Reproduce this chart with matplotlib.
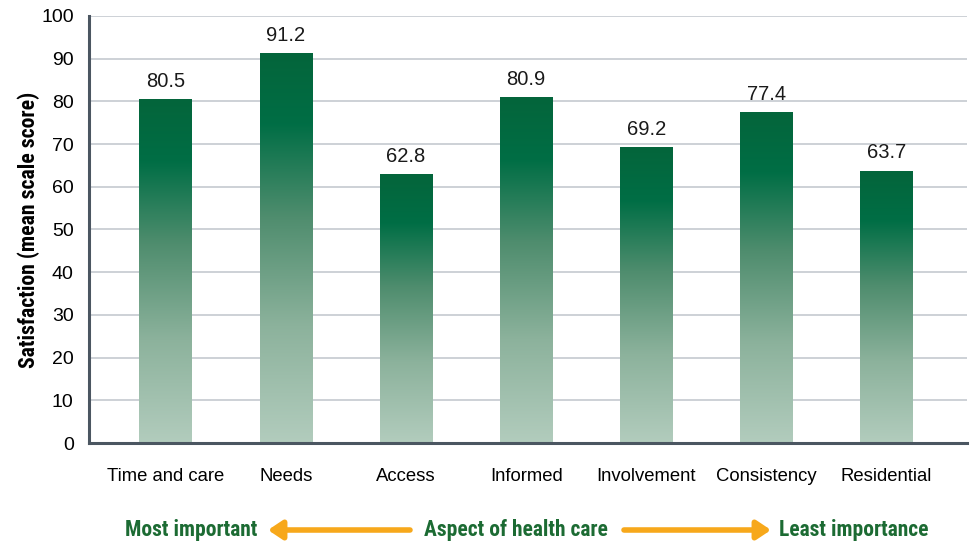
import matplotlib
matplotlib.use("Agg")
import matplotlib.pyplot as plt
import numpy as np
from matplotlib.colors import LinearSegmentedColormap
from matplotlib import font_manager

categories = ["Time and care", "Needs", "Access", "Informed", "Involvement", "Consistency", "Residential"]
scores = [80.5, 91.2, 62.8, 80.9, 69.2, 77.4, 63.7]
yticks = [0, 10, 20, 30, 40, 50, 60, 70, 80, 90, 100]

installed = {f.name for f in font_manager.fontManager.ttflist}
narrow = "Liberation Sans Narrow" if "Liberation Sans Narrow" in installed else "Roboto Condensed" if "Roboto Condensed" in installed else "Liberation Sans"
plt.rcParams["font.family"] = ["Liberation Sans", "DejaVu Sans"]

fig = plt.figure(figsize=(9.71, 5.41), dpi=100)
ax = fig.add_axes([89 / 971, 1 - 443 / 541, (967 - 89) / 971, (443 - 16) / 541])

# vertical gradient: dark green near the top, pale sage at the base
grad = LinearSegmentedColormap.from_list(
    "bar_grad",
    [(0.0, "#b2ccbd"), (0.3, "#8cb29c"), (0.58, "#4f8d6e"), (0.82, "#006e45"), (1.0, "#04653b")],
)
gradient = np.linspace(0, 1, 256).reshape(-1, 1)
width = 0.44
x = np.arange(len(categories))
for xi, val in zip(x, scores):
    ax.imshow(gradient, cmap=grad, origin="lower", aspect="auto",
              extent=(xi - width / 2, xi + width / 2, 0, val), zorder=2, interpolation="bilinear")
    ax.text(xi, val + 2.0, f"{val:.1f}", ha="center", va="bottom", fontsize=14.5, color="#1a1a1a", zorder=3)

ax.set_xlim(-0.64, 6.67)
ax.set_ylim(0, 100)
ax.set_yticks(yticks)
ax.set_xticks(x)
ax.set_xticklabels(categories, fontsize=13.3)
ax.tick_params(axis="y", labelsize=14, length=0, pad=11)
ax.tick_params(axis="x", length=0, pad=18)
ax.yaxis.grid(True, color="#c9ced3", linewidth=1.3, zorder=0)
ax.set_axisbelow(True)
for s in ["top", "right"]:
    ax.spines[s].set_visible(False)
ax.spines["left"].set_color("#4b5661")
ax.spines["left"].set_linewidth(2.2)
ax.spines["bottom"].set_color("#4b5661")
ax.spines["bottom"].set_linewidth(2.2)
ax.set_ylabel("Satisfaction (mean scale score)", fontsize=15.7, fontweight="bold",
              family=[narrow, "DejaVu Sans"])
ax.yaxis.set_label_coords(-0.056, 0.5)

# importance scale below the categories
green = "#1c6b33"
orange = "#f7a81b"
ty = 1 - 530 / 541
for xc, label in [(191, "Most important"), (516, "Aspect of health care"), (854, "Least importance")]:
    fig.text(xc / 971, ty, label, ha="center", va="center", fontsize=15.5, fontweight="bold",
             color=green, family=[narrow, "DejaVu Sans"])
arrow_kw = dict(arrowstyle="-|>,head_length=0.6,head_width=0.4", color=orange, lw=4, shrinkA=0, shrinkB=0)
fig.add_artist(matplotlib.patches.FancyArrowPatch((410 / 971, ty), (268 / 971, ty), transform=fig.transFigure,
                                                  mutation_scale=14, **arrow_kw))
fig.add_artist(matplotlib.patches.FancyArrowPatch((624 / 971, ty), (771 / 971, ty), transform=fig.transFigure,
                                                  mutation_scale=14, **arrow_kw))

fig.savefig("out.png", dpi=100)
